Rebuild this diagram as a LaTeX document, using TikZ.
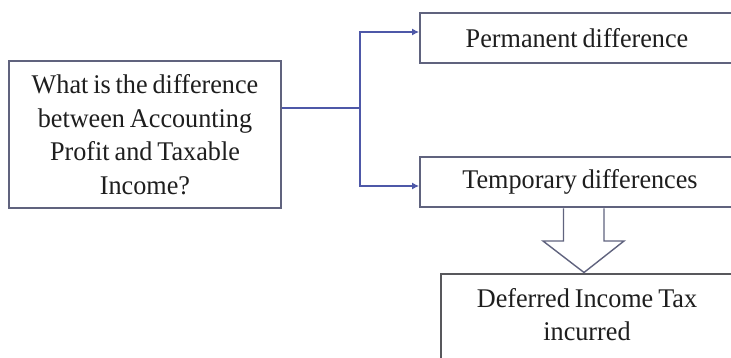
\documentclass[tikz,border=0pt]{standalone}
\usepackage{fontspec}
\setmainfont{Liberation Serif}[FakeStretch=0.97,WordSpace=0.75]
\usetikzlibrary{arrows.meta}
\definecolor{frame}{RGB}{96,99,126}
\definecolor{darkframe}{RGB}{88,88,92}
\definecolor{link}{RGB}{78,88,168}
\definecolor{ink}{RGB}{30,30,30}
\begin{document}
\begin{tikzpicture}[x=1pt,y=-1pt,
  box/.style={draw=frame, line width=1.8pt, fill=white, inner sep=0pt,
    text=ink, align=center,
    font=\fontsize{27pt}{33.5pt}\selectfont},
  label text/.style={text=ink, align=center, inner sep=0pt,
    font=\fontsize{27pt}{33.5pt}\selectfont},
  link line/.style={draw=link, line width=1.4pt},
  link arrow/.style={link line, -{Latex[length=7pt,width=7pt]}}]
\useasboundingbox (0,0) rectangle (731,358);
\clip (0,0) rectangle (731,358);
\fill[white] (0,0) rectangle (731,358);

% question box on the left
\node[box, minimum width=272pt, minimum height=147pt] (question) at (145,134.5)
  {What is the difference\\between Accounting\\Profit and Taxable\\Income?};

% the two kinds of difference (boxes run past the right edge)
\node[box, minimum width=320pt, minimum height=50pt]
  (perm) at (580,38) {Permanent difference\hspace*{6pt}};
\node[box, minimum width=320pt, minimum height=50pt]
  (temp) at (580,182) {Temporary differences};

% result box at the bottom (runs past the lower edge)
\node[box, draw=darkframe, anchor=north west, minimum width=300pt,
  minimum height=120pt] (deferred) at (440,273) {};
\node[label text, anchor=north] (deftext) at (587,288)
  {Deferred Income Tax\\incurred};

% branching connector
\coordinate (split) at (360,108);
\draw[link line] (question.east |- split) -- (split);
\draw[link arrow] (split) |- (perm.west |- 0,32);
\draw[link arrow] (split) |- (temp.west |- 0,186);

% hollow block arrow from temporary differences down to the result
\coordinate (tip) at (584,272.5);
\begin{scope}[shift={(tip)}]
  \filldraw[draw=frame, fill=white, line width=1.4pt, line join=miter]
    (-20.5,-64) -- (-20.5,-31.5) -- (-41,-31.5) -- (0,0)
    -- (40,-31.5) -- (20,-31.5) -- (20,-64);
\end{scope}
\end{tikzpicture}
\end{document}
